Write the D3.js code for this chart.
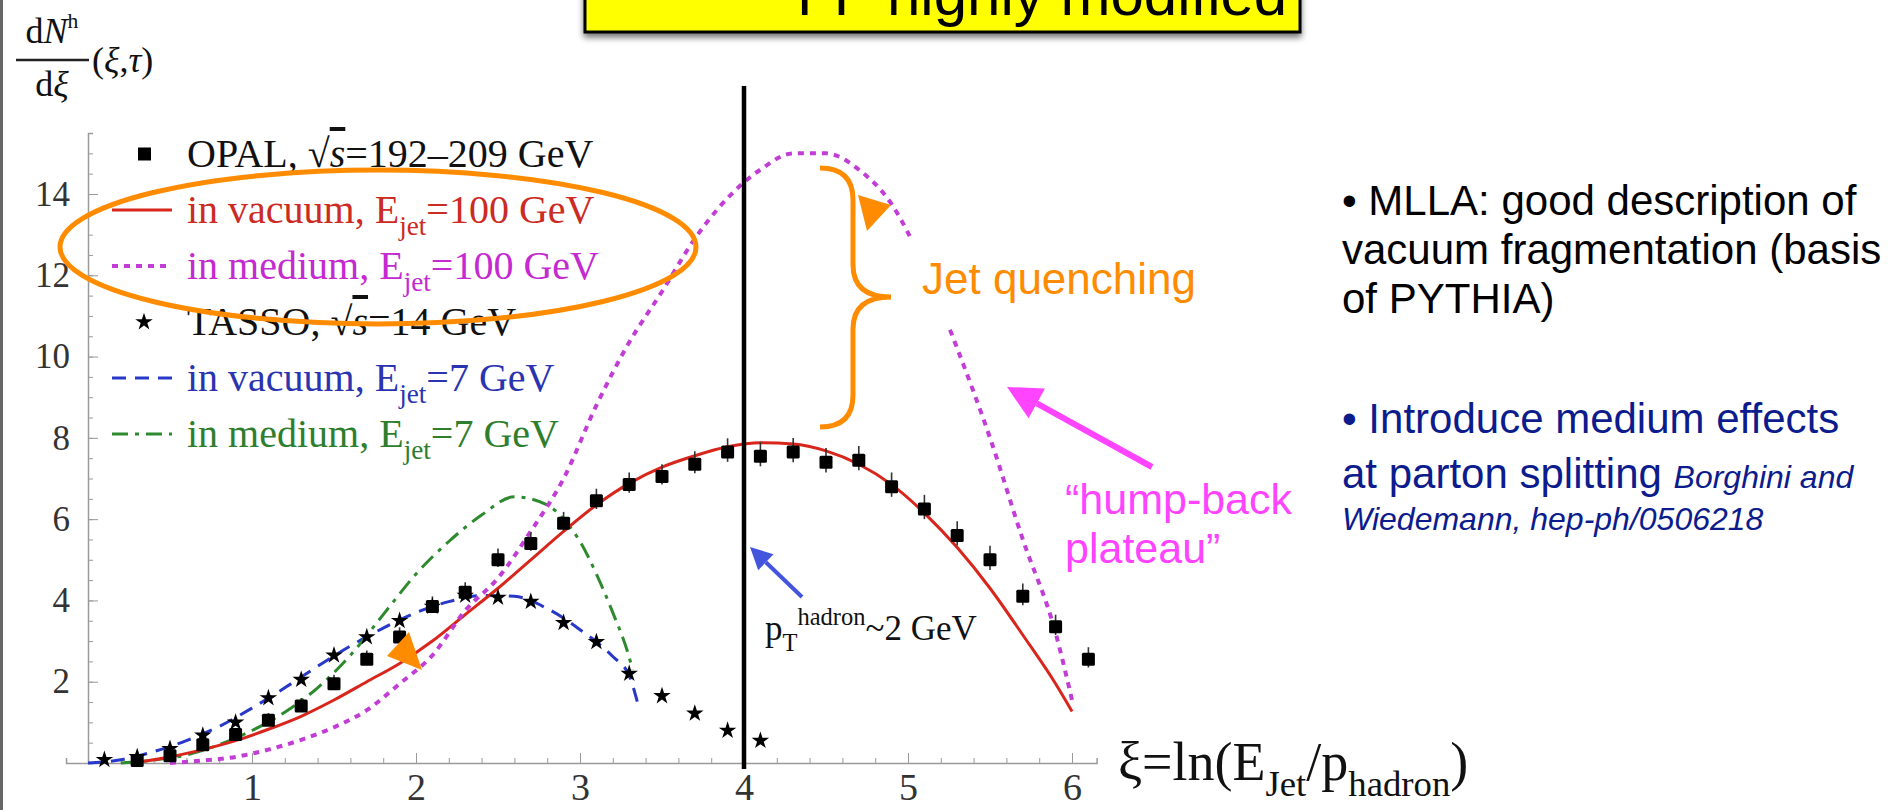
<!DOCTYPE html>
<html>
<head>
<meta charset="utf-8">
<script src="https://cdn.jsdelivr.net/npm/d3@7"></script>
<style>
  html, body { margin: 0; padding: 0; background: #fff; }
  svg { display: block; }
</style>
</head>
<body>
<div id="chart"></div>
<script>
// ---- data ----
const opalXi = [0.3, 0.5, 0.7, 0.9, 1.1, 1.3, 1.5, 1.7, 1.9, 2.1, 2.3, 2.5, 2.7, 2.9, 3.1, 3.3, 3.5, 3.7, 3.9, 4.1, 4.3, 4.5, 4.7, 4.9, 5.1, 5.3, 5.5, 5.7, 5.9, 6.1];
const opalY = [0.06, 0.18, 0.45, 0.7, 1.05, 1.4, 1.95, 2.55, 3.1, 3.85, 4.2, 5.0, 5.4, 5.9, 6.45, 6.85, 7.05, 7.35, 7.65, 7.55, 7.65, 7.4, 7.45, 6.8, 6.25, 5.6, 5.0, 4.1, 3.35, 2.55];
const opalErr = [0.03, 0.04, 0.05, 0.06, 0.08, 0.1, 0.12, 0.12, 0.14, 0.15, 0.15, 0.18, 0.18, 0.18, 0.2, 0.2, 0.2, 0.22, 0.24, 0.25, 0.25, 0.25, 0.25, 0.25, 0.25, 0.25, 0.25, 0.22, 0.2, 0.2];

const tassoXi = [0.1, 0.3, 0.5, 0.7, 0.9, 1.1, 1.3, 1.5, 1.7, 1.9, 2.1, 2.3, 2.5, 2.7, 2.9, 3.1, 3.3, 3.5, 3.7, 3.9, 4.1];
const tassoY = [0.08, 0.15, 0.35, 0.68, 1.0, 1.6, 2.05, 2.65, 3.1, 3.5, 3.85, 4.12, 4.07, 3.97, 3.45, 2.98, 2.2, 1.65, 1.22, 0.8, 0.55];

const vac100Xi = [0.3, 0.5, 0.7, 0.9, 1.1, 1.3, 1.5, 1.7, 1.9, 2.1, 2.3, 2.5, 2.7, 2.9, 3.1, 3.3, 3.5, 3.7, 3.9, 4.1, 4.3, 4.5, 4.7, 4.9, 5.1, 5.3, 5.5, 5.7, 5.9, 6.0];
const vac100Y = [0.02, 0.15, 0.33, 0.55, 0.83, 1.15, 1.55, 2.0, 2.45, 3.0, 3.65, 4.3, 5.0, 5.7, 6.35, 6.88, 7.28, 7.56, 7.78, 7.88, 7.85, 7.68, 7.35, 6.85, 6.15, 5.3, 4.3, 3.15, 1.95, 1.27];

const med100Xi = [0.5, 0.7, 0.9, 1.1, 1.3, 1.5, 1.7, 1.9, 2.1, 2.3, 2.5, 2.7, 2.9, 3.1, 3.3, 3.5, 3.7, 3.9, 4.1, 4.3, 4.5, 4.7, 4.9, 5.1, 5.3, 5.5, 5.7, 5.9, 6.0];
const med100Y = [0.0, 0.06, 0.15, 0.33, 0.57, 0.88, 1.3, 1.95, 2.65, 3.75, 4.55, 5.7, 7.0, 8.8, 10.35, 11.6, 12.9, 13.9, 14.6, 15.0, 15.0, 14.6, 13.75, 12.2, 10.2, 8.0, 5.5, 3.2, 1.55];

const vac7Xi = [0.0, 0.2, 0.4, 0.6, 0.8, 1.0, 1.2, 1.4, 1.6, 1.8, 2.0, 2.2, 2.4, 2.6, 2.8, 3.0, 3.2, 3.3, 3.35];
const vac7Y = [0.0, 0.08, 0.28, 0.55, 0.9, 1.35, 1.85, 2.38, 2.88, 3.32, 3.7, 3.97, 4.12, 4.1, 3.8, 3.28, 2.62, 2.15, 1.5];

const med7Xi = [0.2, 0.4, 0.6, 0.8, 1.0, 1.2, 1.4, 1.6, 1.8, 2.0, 2.2, 2.4, 2.6, 2.8, 2.9, 3.0, 3.1, 3.2, 3.3, 3.32];
const med7Y = [0.0, 0.07, 0.2, 0.45, 0.8, 1.25, 1.85, 2.65, 3.65, 4.65, 5.45, 6.1, 6.55, 6.35, 6.0, 5.45, 4.65, 3.7, 2.6, 2.3];

const xTicks = [1, 2, 3, 4, 5, 6];
const yTicks = [2, 4, 6, 8, 10, 12, 14];

const W = 1899, H = 810;
const serif = "'Liberation Serif', 'Times New Roman', serif";
const sans = "'Liberation Sans', Arial, Helvetica, sans-serif";

const svg = d3.select("#chart").append("svg")
  .attr("width", W)
  .attr("height", H)
  .style("background", "#fff");

const defs = svg.append("defs");
const shadow = defs.append("filter").attr("id", "shadow")
  .attr("x", "-5%").attr("y", "-50%").attr("width", "110%").attr("height", "200%");
shadow.append("feDropShadow").attr("dx", 0).attr("dy", 4).attr("stdDeviation", 3)
  .attr("flood-color", "#000").attr("flood-opacity", 0.55);

// scales
const x = d3.scaleLinear().domain([0, 6]).range([88, 1072]);
const y = d3.scaleLinear().domain([0, 14]).range([763, 194]);

// slide left border
svg.append("line")
  .attr("x1", 1.5).attr("x2", 1.5).attr("y1", 0).attr("y2", H)
  .attr("stroke", "#666").attr("stroke-width", 3);

// title box (cut off at top)
svg.append("rect")
  .attr("x", 585).attr("y", -10).attr("width", 715).attr("height", 42)
  .attr("fill", "#ffff00").attr("stroke", "#000").attr("stroke-width", 3)
  .attr("filter", "url(#shadow)");
svg.append("text")
  .attr("x", 797).attr("y", 15)
  .style("font-family", sans).style("font-size", "60px")
  .attr("fill", "#000")
  .text("FF highly modified");

// ---- axes (Mathematica style) ----
const axisColor = "#9a9a9a";
const xAxisScale = x.copy().domain([-0.134, 6.15]).range([x(-0.134), x(6.15)]);
const xAxisG = svg.append("g").attr("transform", `translate(0,${y(0)})`);
xAxisG.call(d3.axisBottom(xAxisScale).tickValues(d3.range(0.2, 6.01, 0.2)).tickSize(-5).tickFormat(""));
xAxisG.call(g => g.selectAll(".tick line").attr("stroke", axisColor));
xAxisG.select(".domain").attr("stroke", axisColor).attr("stroke-width", 1.5);

const xMajor = svg.append("g").attr("transform", `translate(0,${y(0)})`)
  .call(d3.axisBottom(x).tickValues(xTicks).tickFormat(d3.format("d"))
    .tickSizeInner(-10).tickSizeOuter(0).tickPadding(10));
xMajor.select(".domain").remove();
xMajor.selectAll(".tick line").attr("stroke", axisColor);
xMajor.selectAll(".tick text")
  .style("font-family", serif).style("font-size", "38px").attr("fill", "#333");

const yAxisScale = y.copy().domain([0, 15.5]).range([y(0), y(15.5)]);
const yAxisG = svg.append("g").attr("transform", `translate(${x(0)},0)`);
yAxisG.call(d3.axisLeft(yAxisScale).tickValues(d3.range(0.5, 15.01, 0.5)).tickSize(-5).tickFormat(""));
yAxisG.selectAll(".tick line").attr("stroke", axisColor);
yAxisG.select(".domain").attr("stroke", axisColor).attr("stroke-width", 1.5);

const yMajor = svg.append("g").attr("transform", `translate(${x(0)},0)`)
  .call(d3.axisLeft(y).tickValues(yTicks).tickFormat(d3.format("d"))
    .tickSizeInner(-10).tickSizeOuter(0).tickPadding(18));
yMajor.select(".domain").remove();
yMajor.selectAll(".tick line").attr("stroke", axisColor);
yMajor.selectAll(".tick text")
  .style("font-family", serif).style("font-size", "35px").attr("fill", "#333");

// rich text helper: segments with sub / sup
function richText(parent, px, py, segs, size, color, family, anchor) {
  const t = parent.append("text")
    .attr("x", px).attr("y", py)
    .attr("fill", color)
    .style("font-family", family || serif)
    .style("font-size", size + "px")
    .attr("text-anchor", anchor || "start");
  let shift = 0;
  segs.forEach(s => {
    const small = s.sub || s.sup;
    const fs = small ? size * (s.scale || 0.68) : size;
    const target = s.sub ? size * 0.3 : s.sup ? -size * 0.42 : 0;
    const ts = t.append("tspan")
      .attr("dy", target - shift)
      .style("font-size", fs + "px")
      .text(s.t);
    if (s.italic) ts.style("font-style", "italic");
    if (s.over) ts.style("text-decoration", "overline");
    shift = target;
  });
  return t;
}

// y axis label: dN^h / dxi (xi, tau)
richText(svg, 52, 43, [{ t: "d" }, { t: "N", italic: true }, { t: "h", sup: true, scale: 0.6 }], 36, "#111", serif, "middle");
svg.append("line").attr("x1", 16).attr("x2", 89).attr("y1", 60).attr("y2", 60)
  .attr("stroke", "#222").attr("stroke-width", 2.5);
richText(svg, 52, 96, [{ t: "d" }, { t: "ξ", italic: true }], 36, "#111", serif, "middle");
richText(svg, 92, 72, [{ t: "(" }, { t: "ξ", italic: true }, { t: "," }, { t: "τ", italic: true }, { t: ")" }], 36, "#111", serif);

// ---- curves ----
const line = d3.line().x(d => x(d[0])).y(d => y(d[1])).curve(d3.curveMonotoneX);
const series = [
  { xi: vac7Xi, v: vac7Y, color: "#2838c8", dash: "14,9", w: 3 },
  { xi: med7Xi, v: med7Y, color: "#2e8a2e", dash: "16,7,4,7", w: 3 },
  { xi: vac100Xi, v: vac100Y, color: "#d8261c", dash: null, w: 3 },
  { xi: med100Xi, v: med100Y, color: "#c23cd6", dash: "6,6", w: 4 }
];
series.forEach(s => {
  svg.append("path")
    .datum(s.xi.map((d, i) => [d, s.v[i]]))
    .attr("d", line)
    .attr("fill", "none")
    .attr("stroke", s.color)
    .attr("stroke-width", s.w)
    .attr("stroke-dasharray", s.dash);
});

// OPAL squares with error bars
const opal = opalXi.map((d, i) => ({ xi: d, v: opalY[i], e: opalErr[i] }));
svg.append("g").selectAll("line").data(opal).join("line")
  .attr("x1", d => x(d.xi)).attr("x2", d => x(d.xi))
  .attr("y1", d => y(d.v - d.e) + 0).attr("y2", d => y(d.v + d.e) - 4)
  .attr("stroke", "#333").attr("stroke-width", 1.6);
svg.append("g").selectAll("rect").data(opal).join("rect")
  .attr("x", d => x(d.xi) - 6.5).attr("y", d => y(d.v) - 6.5)
  .attr("width", 13).attr("height", 13).attr("rx", 1.5)
  .attr("fill", "#000");

// TASSO stars
const star = d3.symbol().type(d3.symbolStar).size(95);
svg.append("g").selectAll("path").data(tassoXi.map((d, i) => [d, tassoY[i]])).join("path")
  .attr("transform", d => `translate(${x(d[0])},${y(d[1])})`)
  .attr("d", star)
  .attr("fill", "#000");

// black vertical line at xi = 4
svg.append("line")
  .attr("x1", x(4)).attr("x2", x(4)).attr("y1", 86).attr("y2", 769)
  .attr("stroke", "#000").attr("stroke-width", 4.5);

// ---- legend ----
const legendRows = [
  { kind: "square", color: "#111", segs: [{ t: "OPAL, √" }, { t: "s", italic: true, over: true }, { t: "=192–209 GeV" }] },
  { kind: "line", color: "#d8261c", dash: null, textColor: "#cc2a22", segs: [{ t: "in vacuum, E" }, { t: "jet", sub: true }, { t: "=100 GeV" }] },
  { kind: "line", color: "#c23cd6", dash: "6,6", textColor: "#c42ad0", segs: [{ t: "in medium, E" }, { t: "jet", sub: true }, { t: "=100 GeV" }] },
  { kind: "star", color: "#111", segs: [{ t: "TASSO, √" }, { t: "s", italic: true, over: true }, { t: "=14 GeV" }] },
  { kind: "line", color: "#2838c8", dash: "14,9", textColor: "#2a34b0", segs: [{ t: "in vacuum, E" }, { t: "jet", sub: true }, { t: "=7 GeV" }] },
  { kind: "line", color: "#2e8a2e", dash: "16,7,4,7", textColor: "#2e7e2e", segs: [{ t: "in medium, E" }, { t: "jet", sub: true }, { t: "=7 GeV" }] }
];
legendRows.forEach((r, i) => {
  const cy = 154 + i * 56;
  if (r.kind === "square") {
    svg.append("rect").attr("x", 138).attr("y", cy - 6.5).attr("width", 13).attr("height", 13).attr("fill", "#000");
  } else if (r.kind === "star") {
    svg.append("path").attr("transform", `translate(144,${cy})`).attr("d", star).attr("fill", "#000");
  } else {
    svg.append("line").attr("x1", 112).attr("x2", 172).attr("y1", cy).attr("y2", cy)
      .attr("stroke", r.color).attr("stroke-width", r.color === "#c23cd6" ? 4 : 3)
      .attr("stroke-dasharray", r.dash);
  }
  richText(svg, 187, cy + 13, r.segs, 40, r.textColor || "#111", serif);
});

// ---- annotations ----
const orange = "#ff8c00";
// ellipse around the E=100 GeV legend rows
svg.append("ellipse")
  .attr("cx", 378).attr("cy", 247).attr("rx", 318).attr("ry", 77)
  .attr("fill", "none").attr("stroke", orange).attr("stroke-width", 5);

// curly brace
svg.append("path")
  .attr("d", "M820,168 Q853,168 853,200 L853,265 Q853,297 891,297 Q853,297 853,329 L853,395 Q853,427 820,427")
  .attr("fill", "none").attr("stroke", orange).attr("stroke-width", 5);

// orange arrow heads
svg.append("polygon").attr("points", "858,195 891,205 867,231").attr("fill", orange);
svg.append("polygon").attr("points", "387,656 409,632 422,670").attr("fill", orange);

// "Jet quenching" with white backing
svg.append("rect").attr("x", 902).attr("y", 240).attr("width", 324).attr("height", 85).attr("fill", "#fff");
svg.append("text").attr("x", 922).attr("y", 294)
  .style("font-family", sans).style("font-size", "44px").attr("fill", orange)
  .text("Jet quenching");

// magenta arrow and text
const pink = "#ff44ff";
function arrow(x1, y1, x2, y2, color, w, headLen, headW) {
  const ang = Math.atan2(y2 - y1, x2 - x1);
  const bx = x2 - headLen * Math.cos(ang), by = y2 - headLen * Math.sin(ang);
  svg.append("line").attr("x1", x1).attr("y1", y1).attr("x2", bx).attr("y2", by)
    .attr("stroke", color).attr("stroke-width", w);
  const px = -Math.sin(ang) * headW, py = Math.cos(ang) * headW;
  svg.append("polygon")
    .attr("points", `${x2},${y2} ${bx + px},${by + py} ${bx - px},${by - py}`)
    .attr("fill", color);
}
arrow(1152, 467, 1007, 387, pink, 6, 34, 17);
svg.append("text").attr("x", 1065).attr("y", 514)
  .style("font-family", sans).style("font-size", "43px").attr("fill", pink)
  .text("“hump-back");
svg.append("text").attr("x", 1065).attr("y", 563)
  .style("font-family", sans).style("font-size", "43px").attr("fill", pink)
  .text("plateau”");

// blue arrow + pT label
arrow(802, 597, 750, 547, "#4455dd", 4, 22, 11);
richText(svg, 765, 640, [{ t: "p" }, { t: "T", sub: true, scale: 0.7 }, { t: "hadron", sup: true, scale: 0.7 }, { t: "~2 GeV" }], 35, "#111", serif);

// x axis title
richText(svg, 1118, 780, [{ t: "ξ=ln(E" }, { t: "Jet", sub: true }, { t: "/p" }, { t: "hadron", sub: true }, { t: ")" }], 54, "#111", serif);

// ---- right-hand bullet text ----
const rightX = 1342;
const mllaLines = ["• MLLA: good description of", "vacuum fragmentation (basis", "of PYTHIA)"];
mllaLines.forEach((s, i) => {
  svg.append("text").attr("x", rightX).attr("y", 215 + i * 49)
    .style("font-family", sans).style("font-size", "42px").attr("fill", "#000")
    .text(s);
});
const navy = "#0c1c8c";
svg.append("text").attr("x", rightX).attr("y", 433)
  .style("font-family", sans).style("font-size", "42px").attr("fill", navy)
  .text("• Introduce medium effects");
const l5 = svg.append("text").attr("x", rightX).attr("y", 488)
  .style("font-family", sans).attr("fill", navy);
l5.append("tspan").style("font-size", "42px").text("at parton splitting ");
l5.append("tspan").style("font-size", "32px").style("font-style", "italic").text("Borghini and");
svg.append("text").attr("x", rightX).attr("y", 530)
  .style("font-family", sans).style("font-size", "32px").style("font-style", "italic").attr("fill", navy)
  .text("Wiedemann, hep-ph/0506218");
</script>
</body>
</html>
